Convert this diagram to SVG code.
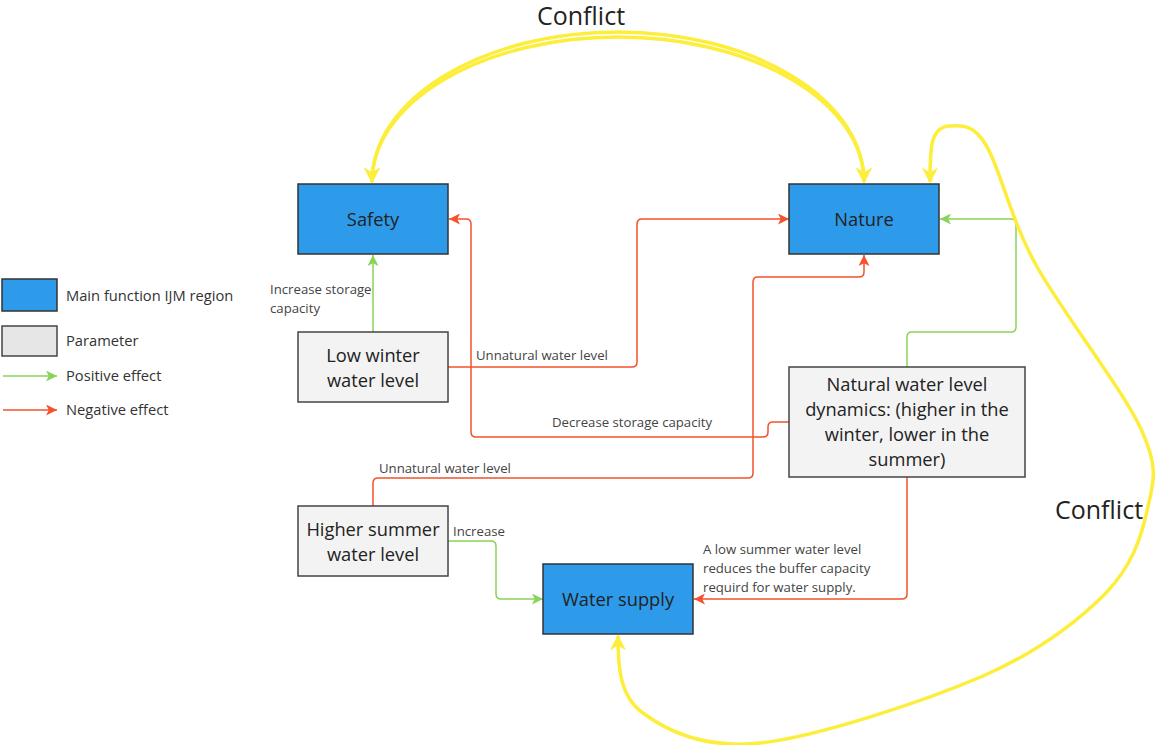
<svg xmlns="http://www.w3.org/2000/svg" width="1157" height="745" viewBox="0 0 1157 745">
<style>
.main{fill:#2d9aea;stroke:#333;stroke-width:1.5}
.param{fill:#f3f3f3;stroke:#444;stroke-width:1.5}
.nt{font-family:"Open Sans","Liberation Sans",sans-serif;font-size:18.3px;fill:#222;text-anchor:middle}
.lb{font-family:"Open Sans","Liberation Sans",sans-serif;font-size:13.2px;fill:#444}
.lg{font-family:"Open Sans","Liberation Sans",sans-serif;font-size:14.7px;fill:#333}
.cf{font-family:"Open Sans","Liberation Sans",sans-serif;font-size:25px;fill:#222}
.red{fill:none;stroke:#f4512c;stroke-width:1.5;marker-end:url(#ar)}
.grn{fill:none;stroke:#8ad35a;stroke-width:1.5;marker-end:url(#ag)}
.yel{fill:none;stroke:#fcee3a;stroke-width:3.5;marker-start:url(#ay);marker-end:url(#ay)}
</style>
<defs>
<marker id="ar" viewBox="0 0 10 10" refX="10" refY="5" markerWidth="11" markerHeight="11" markerUnits="userSpaceOnUse" orient="auto"><path d="M0,0 L10,5 L0,10 L2.5,5 z" fill="#f4512c"/></marker>
<marker id="ag" viewBox="0 0 10 10" refX="10" refY="5" markerWidth="11" markerHeight="11" markerUnits="userSpaceOnUse" orient="auto"><path d="M0,0 L10,5 L0,10 L2.5,5 z" fill="#8ad35a"/></marker>
<marker id="ay" viewBox="0 0 10 10" refX="9" refY="5" markerWidth="16" markerHeight="16" markerUnits="userSpaceOnUse" orient="auto-start-reverse"><path d="M0,0 L10,5 L0,10 L3,5 z" fill="#fcee3a"/></marker>
</defs>
<rect width="1157" height="745" fill="#fff"/>
<g id="legend">
<rect x="2" y="279" width="55" height="32" class="main"/>
<text x="66" y="301" class="lg">Main function IJM region</text>
<rect x="2" y="326" width="55" height="30" fill="#e6e6e6" stroke="#444" stroke-width="1.5"/>
<text x="66" y="346" class="lg">Parameter</text>
<path d="M3 376 H57" class="grn"/>
<text x="66" y="381" class="lg">Positive effect</text>
<path d="M3 410 H57" class="red"/>
<text x="66" y="415" class="lg">Negative effect</text>
</g>
<g id="connectors">
<path class="grn" d="M373 332 V255"/>
<path class="red" d="M448 367 H632 Q637 367 637 362 V224 Q637 219 642 219 H789"/>
<path class="red" d="M789 422 H773 Q768 422 768 427 V432 Q768 437 763 437 H476 Q471 437 471 432 V224 Q471 219 466 219 H449"/>
<path class="red" d="M373 506 V483 Q373 478 378 478 H748 Q753 478 753 473 V282 Q753 277 758 277 H859 Q864 277 864 272 V255"/>
<path class="grn" d="M448 541 H491 Q496 541 496 546 V594 Q496 599 501 599 H543"/>
<path class="red" d="M907 477 V594 Q907 599 902 599 H694"/>
<path class="grn" d="M907 367 V337 Q907 332 912 332 H1011 Q1016 332 1016 327 V224 Q1016 219 1011 219 H940"/>
<path class="yel" d="M372 182 A246 150 0 0 1 864 182"/>
<path class="yel" d="M372 182 A246 145 0 0 1 864 182"/>
<path class="yel" stroke-width="5" d="M618 636 C618 665 619 696 643 713 C667 731 703 749 760 743 C817 737 925 701 983 676 C1040 651 1078 621 1105 594 C1132 566 1141 538 1147 511 C1153 483 1160 470 1141 429 C1122 388 1062 312 1036 265 C1010 218 1000 168 986 145 C972 122 959 126 950 126 C941 126 936 131 933 140 C930 149 930 165 930 182"/>
<text x="270" y="294" class="lb">Increase storage</text>
<text x="270" y="313" class="lb">capacity</text>
<text x="476" y="360" class="lb">Unnatural water level</text>
<text x="552" y="427" class="lb">Decrease storage capacity</text>
<text x="379" y="473" class="lb">Unnatural water level</text>
<text x="453" y="536" class="lb">Increase</text>
<text x="703" y="554" class="lb">A low summer water level</text>
<text x="703" y="573" class="lb">reduces the buffer capacity</text>
<text x="703" y="592" class="lb">requird for water supply.</text>
<text x="537" y="25" class="cf">Conflict</text>
<text x="1055" y="519" class="cf">Conflict</text>
</g>
<g id="safety"><rect x="298" y="184" width="150" height="70" class="main"/><text x="373" y="226" class="nt">Safety</text></g>
<g id="nature"><rect x="789" y="184" width="150" height="70" class="main"/><text x="864" y="226" class="nt">Nature</text></g>
<g id="water-supply"><rect x="543" y="564" width="150" height="70" class="main"/><text x="618" y="606" class="nt">Water supply</text></g>
<g id="low-winter"><rect x="298" y="332" width="150" height="70" class="param"/><text x="373" y="362" class="nt">Low winter</text><text x="373" y="387" class="nt">water level</text></g>
<g id="higher-summer"><rect x="298" y="506" width="150" height="70" class="param"/><text x="373" y="536" class="nt">Higher summer</text><text x="373" y="561" class="nt">water level</text></g>
<g id="natural-dynamics"><rect x="789" y="367" width="236" height="110" class="param"/><text x="907" y="391" class="nt">Natural water level</text><text x="907" y="416" class="nt">dynamics: (higher in the</text><text x="907" y="441" class="nt">winter, lower in the</text><text x="907" y="466" class="nt">summer)</text></g>
</svg>
